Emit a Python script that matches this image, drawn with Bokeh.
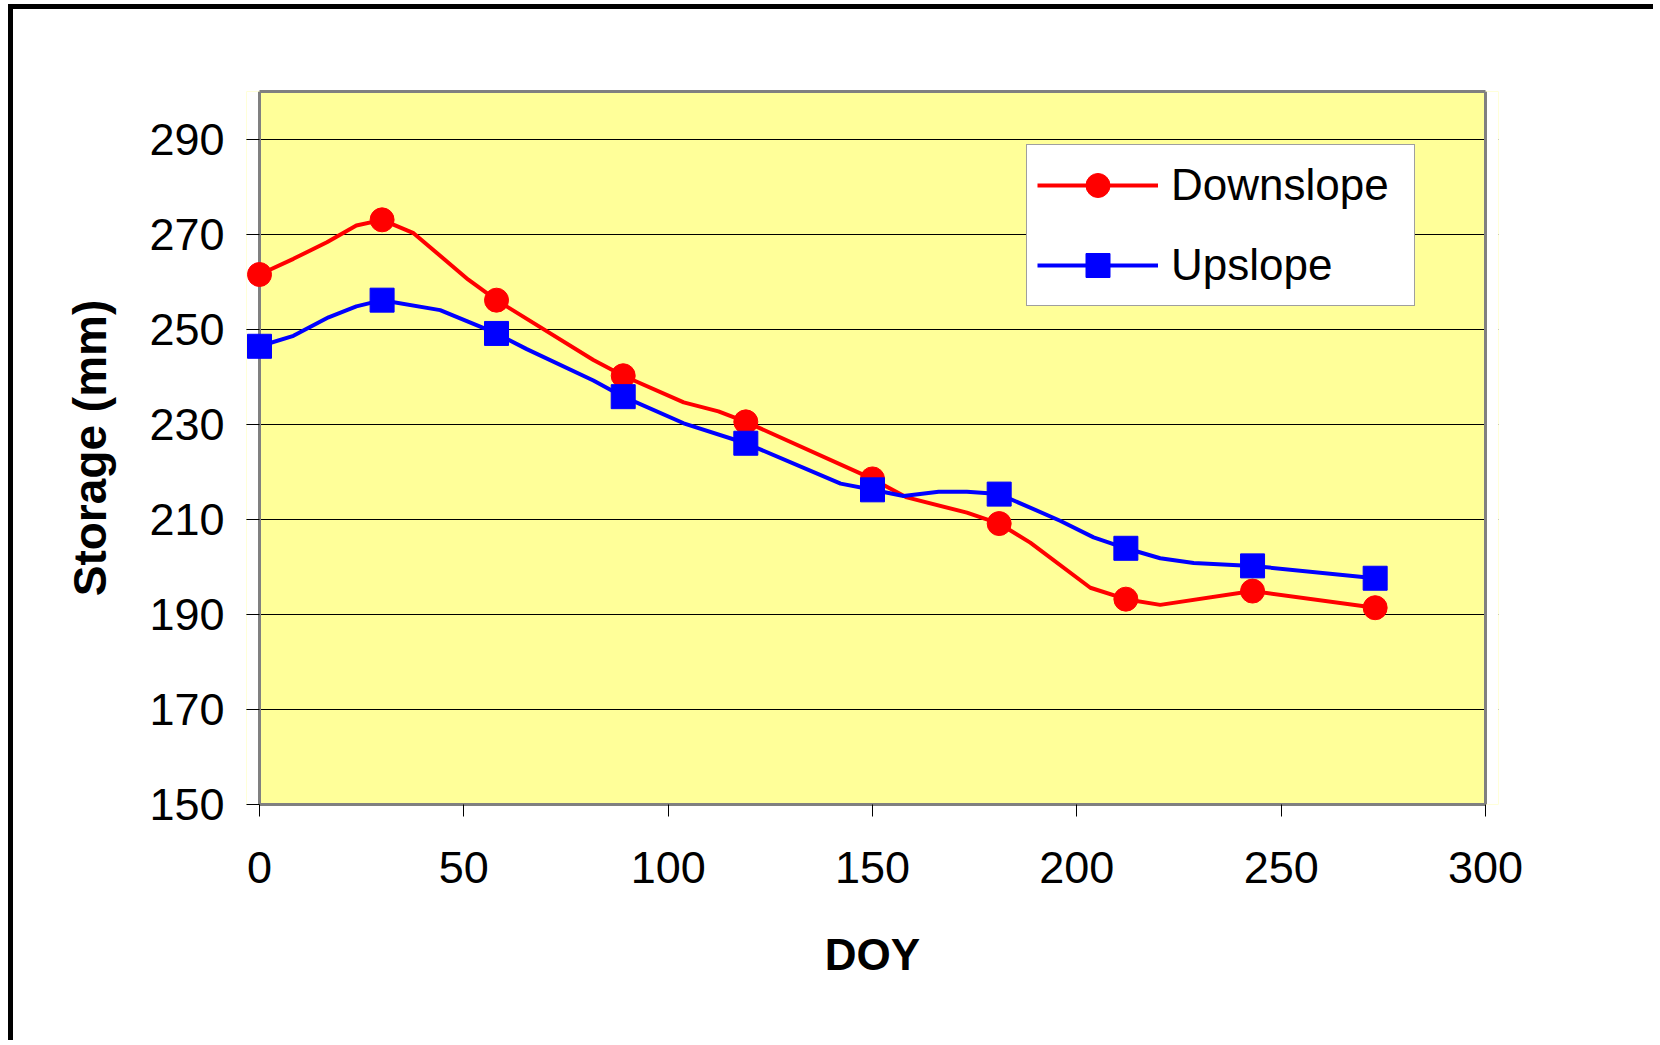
from bokeh.plotting import figure
from bokeh.models import Range1d, FixedTicker, Legend, LegendItem, LinearAxis, Span
from bokeh.embed import file_html
from bokeh.resources import INLINE

# ---- data ----
marker_doy = [0, 30, 58, 89, 119, 150, 181, 212, 243, 273]
down_marker = [261.5, 273.0, 256.1, 240.2, 230.5, 218.5, 209.1, 193.2, 194.9, 191.4]
up_marker = [246.4, 256.1, 249.1, 235.8, 226.0, 216.2, 215.3, 203.9, 200.2, 197.6]

down_line_doy = [0, 8.3, 16.5, 23.7, 30, 37.7, 51.1, 58, 81.7, 89, 103.8, 112.3, 119,
                 150, 158.4, 173.1, 181, 188.6, 203.3, 212, 220.4, 243, 273]
down_line = [261.5, 264.8, 268.3, 271.8, 273.0, 270.2, 260.4, 256.1, 243.5, 240.2, 234.6,
             232.7, 230.5, 218.5, 214.6, 211.4, 209.1, 205.1, 195.6, 193.2, 192.0, 194.9, 191.4]

up_line_doy = [0, 8.3, 16.9, 23.7, 30, 44.2, 58, 65.4, 81.7, 89, 103.8, 119, 142.2, 150,
               157.6, 166.2, 173.1, 181, 195.9, 204.1, 212, 220.4, 228.6, 243, 273]
up_line = [246.4, 248.6, 252.5, 254.8, 256.1, 254.0, 249.1, 245.8, 239.2, 235.8, 230.2,
           226.0, 217.5, 216.2, 214.9, 215.8, 215.8, 215.3, 209.7, 206.2, 203.9, 201.8,
           200.8, 200.2, 197.6]

x_ticks = [0, 50, 100, 150, 200, 250, 300]
y_ticks = [150, 170, 190, 210, 230, 250, 270, 290]
x_label = "DOY"
y_label = "Storage (mm)"
names = ["Downslope", "Upslope"]

FONT = "Liberation Sans"
FRAME_GREY = "#808080"

X_MIN, X_MAX = 0, 300
Y_MIN, Y_MAX = 150, 300
PAD_PX = 13                       # room each side of 0..300 so edge markers are not clipped
FRAME_W = 1226                    # pixel width of the 0..300 span
EDGE_W = 3                        # width of the grey plot-area border
px = (X_MAX - X_MIN) / FRAME_W    # data units per pixel along x
x_pad = PAD_PX * px

p = figure(width=1645, height=1036, output_backend="svg", toolbar_location=None,
           x_range=Range1d(X_MIN - x_pad, X_MAX + x_pad), y_range=Range1d(Y_MIN, Y_MAX),
           min_border_left=233, min_border_right=160, min_border_top=82,
           min_border_bottom=241)

# outer black chart border (left and top edges visible in the window)
p.styles = {"margin-left": "8px", "margin-top": "4px",
            "border-left": "5px solid black", "border-top": "5px solid black"}

p.background_fill_color = "#FFFF99"
p.border_fill_color = "white"
p.outline_line_color = None

# white strips outside 0..300, drawn under the series
half = EDGE_W / 2 * px
p.quad(left=[X_MIN - x_pad, X_MAX + half], right=[X_MIN - half, X_MAX + x_pad],
       bottom=[Y_MIN, Y_MIN], top=[Y_MAX, Y_MAX],
       fill_color="white", line_color=None)

p.xgrid.visible = False
p.ygrid.grid_line_color = "black"
p.ygrid.grid_line_width = 1
p.ygrid.ticker = FixedTicker(ticks=y_ticks)

p.xaxis.ticker = FixedTicker(ticks=x_ticks)
p.yaxis.ticker = FixedTicker(ticks=y_ticks)
p.xaxis.bounds = (X_MIN, X_MAX)
for ax in (p.xaxis, p.yaxis):
    ax.axis_line_color = FRAME_GREY
    ax.axis_line_width = EDGE_W
    ax.major_tick_line_color = "black"
    ax.major_tick_line_width = 1
    ax.minor_tick_line_color = None
    ax.major_label_text_font = FONT
    ax.major_label_text_font_size = "45px"
    ax.major_label_text_color = "black"
    ax.axis_label_text_font = FONT
    ax.axis_label_text_font_style = "bold"
    ax.axis_label_text_color = "black"

p.xaxis.major_tick_out = 12
p.xaxis.major_tick_in = 0
# y axis sits at the frame edge; its ticks reach in to x = 0
p.yaxis.axis_line_color = None
p.yaxis.major_tick_out = 0
p.yaxis.major_tick_in = PAD_PX

p.xaxis.axis_label = x_label
p.yaxis.axis_label = y_label
p.xaxis.axis_label_text_font_size = "44px"
p.yaxis.axis_label_text_font_size = "46px"
p.xaxis.major_label_standoff = 35
p.yaxis.major_label_standoff = 22
p.xaxis.axis_label_standoff = 44
p.yaxis.axis_label_standoff = 30

# top, left and right edges of the plot area
top_edge = LinearAxis(ticker=FixedTicker(ticks=[]), bounds=(X_MIN, X_MAX),
                      axis_line_color=FRAME_GREY, axis_line_width=EDGE_W,
                      major_tick_line_color=None, minor_tick_line_color=None,
                      major_label_text_alpha=0)
p.add_layout(top_edge, "above")
p.add_layout(Span(location=X_MIN, dimension="height", line_color=FRAME_GREY,
                  line_width=EDGE_W, level="underlay"))
p.add_layout(Span(location=X_MAX, dimension="height", line_color=FRAME_GREY,
                  line_width=EDGE_W, level="underlay"))

r_dl = p.line(down_line_doy, down_line, line_color="#FF0000", line_width=4)
r_dm = p.scatter(marker_doy, down_marker, marker="circle", size=24,
                 fill_color="#FF0000", line_color="#FF0000")
r_ul = p.line(up_line_doy, up_line, line_color="#0000FF", line_width=4)
r_um = p.scatter(marker_doy, up_marker, marker="square", size=24,
                 fill_color="#0000FF", line_color="#0000FF")

legend = Legend(items=[LegendItem(label=names[0], renderers=[r_dl, r_dm]),
                       LegendItem(label=names[1], renderers=[r_ul, r_um])],
                location=(780, 498), margin=0, padding=10, spacing=20,
                glyph_width=121, glyph_height=60, label_height=60,
                label_width=233, label_standoff=13,
                label_text_font=FONT, label_text_font_size="44px",
                label_text_color="black",
                border_line_color="#404040", border_line_width=1.5,
                background_fill_color="white", background_fill_alpha=1.0)
p.add_layout(legend, "center")

open("out.html", "w").write(file_html(p, INLINE))
